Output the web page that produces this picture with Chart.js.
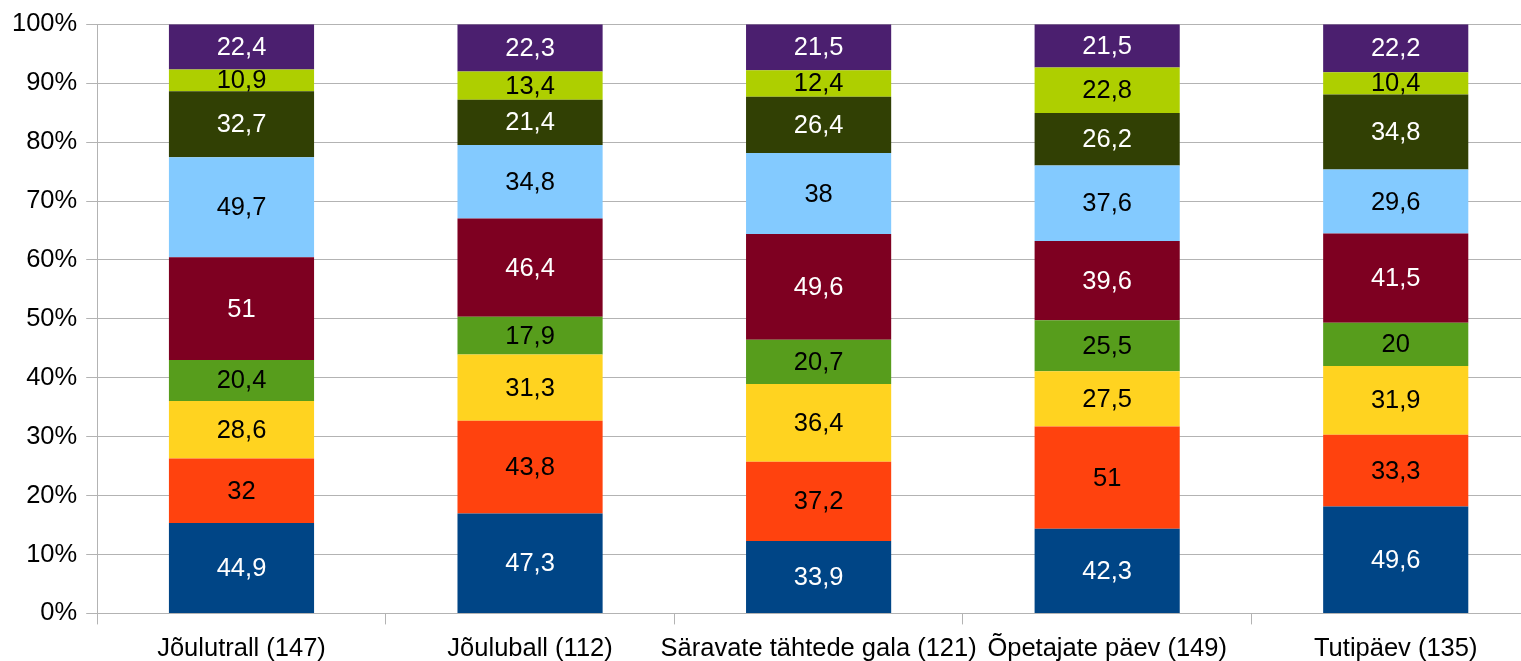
<!DOCTYPE html>
<html>
<head>
<meta charset="utf-8">
<script src="https://cdn.jsdelivr.net/npm/chart.js@4/dist/chart.umd.min.js"></script>
<style>
  html, body { margin: 0; padding: 0; background: #fff; overflow: hidden; }
  #wrap { width: 1545px; height: 661px; }
</style>
</head>
<body>
<div id="wrap"><canvas id="chart" width="1545" height="661"></canvas></div>
<script>
// categories (x axis)
const categories = ['Jõulutrall (147)', 'Jõuluball (112)', 'Säravate tähtede gala (121)', 'Õpetajate päev (149)', 'Tutipäev (135)'];

// series values, bottom to top of the stack
const s1 = [44.9, 47.3, 33.9, 42.3, 49.6];
const s2 = [32, 43.8, 37.2, 51, 33.3];
const s3 = [28.6, 31.3, 36.4, 27.5, 31.9];
const s4 = [20.4, 17.9, 20.7, 25.5, 20];
const s5 = [51, 46.4, 49.6, 39.6, 41.5];
const s6 = [49.7, 34.8, 38, 37.6, 29.6];
const s7 = [32.7, 21.4, 26.4, 26.2, 34.8];
const s8 = [10.9, 13.4, 12.4, 22.8, 10.4];
const s9 = [22.4, 22.3, 21.5, 21.5, 22.2];

const yTicks = [0, 10, 20, 30, 40, 50, 60, 70, 80, 90, 100];

const series = [s1, s2, s3, s4, s5, s6, s7, s8, s9];
const colors = ['#004586', '#ff420e', '#ffd320', '#579d1c', '#7e0021', '#83caff', '#314004', '#aecf00', '#4b1f6f'];
const labelColors = ['#fff', '#000', '#000', '#000', '#fff', '#000', '#fff', '#000', '#fff'];

// 100% stacking: share of each value in its category total
const totals = categories.map((c, i) => series.reduce((sum, s) => sum + s[i], 0));

const datasets = series.map((s, k) => ({
  label: 'S' + (k + 1),
  raw: s,
  data: s.map((v, i) => v / totals[i] * 100),
  backgroundColor: colors[k],
  labelColor: labelColors[k],
  borderWidth: 0,
  barPercentage: 0.503,
  categoryPercentage: 1
}));

const valueLabels = {
  id: 'valueLabels',
  afterDatasetsDraw(chart) {
    const ctx = chart.ctx;
    ctx.save();
    ctx.font = '25.5px "Liberation Sans", Arial, sans-serif';
    ctx.textAlign = 'center';
    ctx.textBaseline = 'middle';
    chart.data.datasets.forEach((ds, k) => {
      const meta = chart.getDatasetMeta(k);
      meta.data.forEach((bar, i) => {
        const y = (bar.y + bar.base) / 2;
        ctx.fillStyle = ds.labelColor;
        ctx.fillText(String(ds.raw[i]).replace('.', ','), bar.x, y + 1);
      });
    });
    ctx.restore();
  }
};

Chart.defaults.font.family = '"Liberation Sans", Arial, sans-serif';
Chart.defaults.color = '#000';

new Chart(document.getElementById('chart'), {
  type: 'bar',
  data: { labels: categories, datasets },
  plugins: [valueLabels],
  options: {
    responsive: false,
    animation: false,
    layout: { padding: { left: 3, top: 21, right: 5, bottom: -12 } },
    plugins: { legend: { display: false }, tooltip: { enabled: false } },
    scales: {
      x: {
        stacked: true,
        grid: { offset: true, drawOnChartArea: false, color: '#b3b3b3', tickLength: 11 },
        border: { display: true, color: '#b3b3b3' },
        ticks: { font: { size: 25.5 }, padding: 9, maxRotation: 0, autoSkip: false }
      },
      y: {
        stacked: true,
        min: 0,
        max: 100,
        afterBuildTicks(axis) { axis.ticks = yTicks.map(v => ({ value: v })); },
        grid: { color: '#b3b3b3', tickLength: 11 },
        border: { display: true, color: '#b3b3b3' },
        ticks: { font: { size: 25.5 }, padding: 9, callback: v => v + '%' }
      }
    }
  }
});
</script>
</body>
</html>
